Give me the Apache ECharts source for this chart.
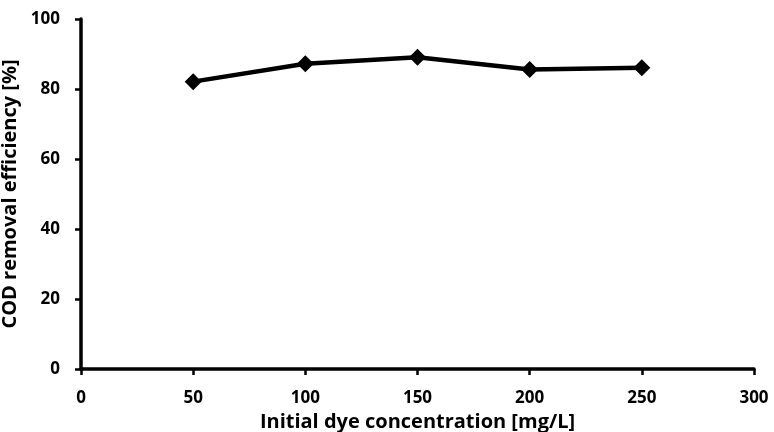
<!DOCTYPE html>
<html><head><meta charset="utf-8">
<script src="https://cdn.jsdelivr.net/npm/echarts@6/dist/echarts.min.js"></script>
<style>html,body{margin:0;padding:0;background:#fff}#c{width:774px;height:432px}</style>
</head><body><div id="c"></div>
<script>
const concentrations = [50, 100, 150, 200, 250];
const codRemoval = [82.1, 87.2, 89.1, 85.6, 86.1];
const xTitle = 'Initial dye concentration [mg/L]';
const yTitle = 'COD removal efficiency [%]';
const font = '"Open Sans", sans-serif';
const chart = echarts.init(document.getElementById('c'));
chart.setOption({
  animation: false,
  grid: {left: 81, right: 20, top: 19, bottom: 63, containLabel: false, outerBoundsMode: 'none'},
  xAxis: {
    type: 'value', min: 0, max: 300, interval: 50,
    name: xTitle, nameLocation: 'middle', nameGap: 37,
    nameTextStyle: {fontFamily: font, fontWeight: 'bold', fontSize: 20, color: '#000'},
    axisLine: {lineStyle: {color: '#000', width: 3.5}},
    axisTick: {show: true, length: 6, lineStyle: {color: '#000', width: 2.5}},
    axisLabel: {fontFamily: font, fontWeight: 'bold', fontSize: 17, color: '#000', margin: 21},
    splitLine: {show: false}
  },
  yAxis: {
    type: 'value', min: 0, max: 100, interval: 20,
    name: yTitle, nameLocation: 'middle', nameGap: 48,
    nameTextStyle: {fontFamily: font, fontWeight: 'bold', fontSize: 20, color: '#000'},
    axisLine: {show: true, lineStyle: {color: '#000', width: 3.5}},
    axisTick: {show: true, length: 6, lineStyle: {color: '#000', width: 2.5}},
    axisLabel: {fontFamily: font, fontWeight: 'bold', fontSize: 17, color: '#000', margin: 21},
    splitLine: {show: false}
  },
  series: [{
    type: 'line',
    data: concentrations.map((c, i) => [c, codRemoval[i]]),
    symbol: 'diamond', symbolSize: 17,
    lineStyle: {color: '#000', width: 4.5},
    itemStyle: {color: '#000'}
  }]
});
</script></body></html>
